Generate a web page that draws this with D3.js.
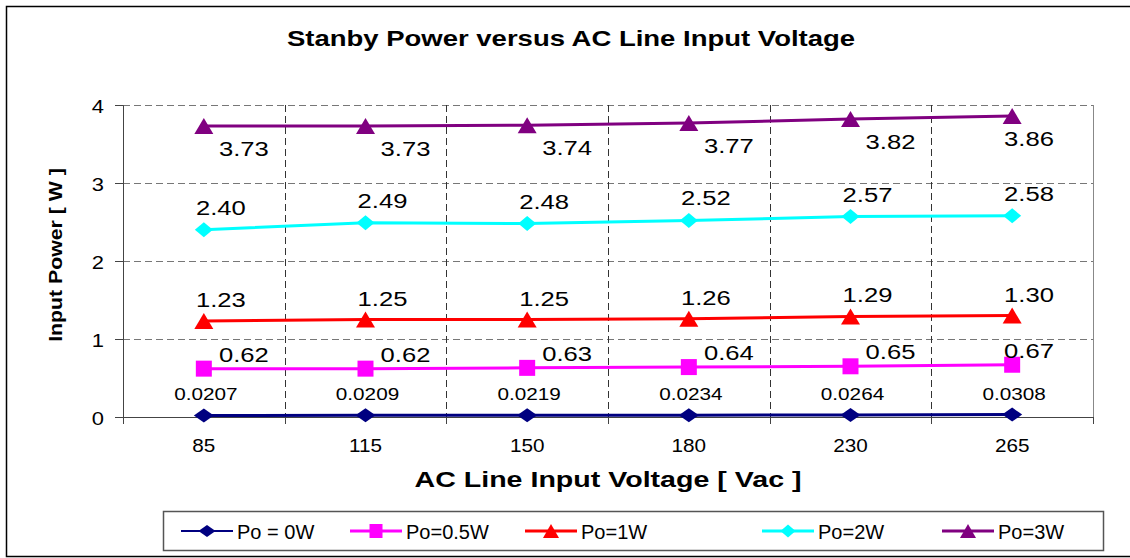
<!DOCTYPE html>
<html lang="en">
<head>
  <meta charset="UTF-8">
  <title>Stanby Power versus AC Line Input Voltage</title>
  <style>
    body, html {
        margin: 0;
        padding: 0;
        background-color: #FFF;
        font-family: "Liberation Sans", Arial, sans-serif;
    }
    #chart {
        display: block;
    }
  </style>
</head>
<body>

<svg id="chart" width="1130" height="558"></svg>

<script src="https://cdn.jsdelivr.net/npm/d3@7"></script>

<script>
/* global d3 */
var voltages = ["85", "115", "150", "180", "230", "265"];
var yTicks = [0, 1, 2, 3, 4];

var po0W   = [0.0207, 0.0209, 0.0219, 0.0234, 0.0264, 0.0308];
var po05W  = [0.62, 0.62, 0.63, 0.64, 0.65, 0.67];
var po1W   = [1.23, 1.25, 1.25, 1.26, 1.29, 1.30];
var po2W   = [2.40, 2.49, 2.48, 2.52, 2.57, 2.58];
var po3W   = [3.73, 3.73, 3.74, 3.77, 3.82, 3.86];

var seriesNames = ["Po = 0W", "Po=0.5W", "Po=1W", "Po=2W", "Po=3W"];

// the original picture is stretched sideways a bit, so text gets a scaleX
var SX = 1.22;

// style per series: colour, marker, label offset, label format
var series = [
  {name: seriesNames[0], values: po0W,  color: "#000080", shape: "diamond",  w: 20, h: 14, lw: 3, fmt: d3.format(".4f"), dx: 2,  dy: -15, fs: 17},
  {name: seriesNames[1], values: po05W, color: "#FF00FF", shape: "square",   w: 16, h: 16, lw: 3, fmt: d3.format(".2f"), dx: 40, dy: -7,  fs: 21},
  {name: seriesNames[2], values: po1W,  color: "#FF0000", shape: "triangle", w: 19, h: 16, lw: 3, fmt: d3.format(".2f"), dx: 17, dy: -14, fs: 21},
  {name: seriesNames[3], values: po2W,  color: "#00FFFF", shape: "diamond",  w: 18, h: 15, lw: 3, fmt: d3.format(".2f"), dx: 17, dy: -15, fs: 21},
  {name: seriesNames[4], values: po3W,  color: "#800080", shape: "triangle", w: 19, h: 16, lw: 3, fmt: d3.format(".2f"), dx: 40, dy: 30,  fs: 21}
];

var svg = d3.select("#chart"),
  margin = {left: 123, top: 105, right: 1093, bottom: 417};

var x = d3.scaleBand()
  .domain(voltages)
  .range([margin.left, margin.right]);

var y = d3.scaleLinear()
  .domain([0, 4])
  .range([margin.bottom, margin.top]);

function cx(i) { return x(voltages[i]) + x.bandwidth() / 2; }

// outer frame
svg.append("rect")
  .attr("x", 6.5).attr("y", 6.5)
  .attr("width", 1140).attr("height", 550)
  .attr("fill", "none")
  .attr("stroke", "#000")
  .attr("stroke-width", 1.5);

// horizontal grid
svg.append("g")
  .selectAll("line")
  .data(yTicks.filter(function (d) { return d > 0; }))
  .join("line")
    .attr("x1", margin.left).attr("x2", margin.right)
    .attr("y1", function (d) { return Math.round(y(d)) + 0.5; })
    .attr("y2", function (d) { return Math.round(y(d)) + 0.5; })
    .attr("stroke", "#777")
    .attr("stroke-dasharray", "7,4");

// vertical grid at category boundaries
var bounds = voltages.slice(1).map(function (v) { return x(v); });
svg.append("g")
  .selectAll("line")
  .data(bounds)
  .join("line")
    .attr("x1", function (d) { return Math.round(d) + 0.5; })
    .attr("x2", function (d) { return Math.round(d) + 0.5; })
    .attr("y1", margin.top).attr("y2", margin.bottom)
    .attr("stroke", "#333")
    .attr("stroke-dasharray", "7,4");

// right border of plot area
svg.append("line")
  .attr("x1", margin.right + 0.5).attr("x2", margin.right + 0.5)
  .attr("y1", margin.top).attr("y2", margin.bottom)
  .attr("stroke", "#888");

// y axis
var yAxis = svg.append("g")
  .attr("transform", "translate(" + margin.left + ",0)")
  .call(d3.axisLeft(y).tickValues(yTicks).tickSize(8).tickFormat(d3.format("d")));
yAxis.select(".domain").attr("stroke", "#444");
yAxis.selectAll(".tick line").attr("stroke", "#444");
yAxis.selectAll("text")
  .attr("x", 0)
  .attr("dy", "0.42em")
  .attr("transform", "translate(-19,0) scale(" + SX + ",1)")
  .attr("font-size", 18)
  .attr("font-family", "Liberation Sans, Arial, sans-serif")
  .attr("fill", "#000");

// x axis: ticks at category boundaries
var xAxis = svg.append("g")
  .attr("transform", "translate(0," + margin.bottom + ")")
  .call(d3.axisBottom(x).tickSize(0).tickPadding(22));
xAxis.select(".domain").attr("stroke", "#444").attr("d", "M" + margin.left + ",0.5H" + margin.right);
xAxis.selectAll("text")
  .attr("transform", "scale(1.15,1)")
  .attr("font-size", 18)
  .attr("font-family", "Liberation Sans, Arial, sans-serif")
  .attr("fill", "#000");
xAxis.selectAll(".bound")
  .data([margin.left].concat(bounds, [margin.right]))
  .join("line")
    .attr("class", "bound")
    .attr("x1", function (d) { return Math.round(d) + 0.5; })
    .attr("x2", function (d) { return Math.round(d) + 0.5; })
    .attr("y1", 0).attr("y2", 7)
    .attr("stroke", "#444");

// titles
svg.append("text")
  .attr("transform", "translate(571,46) scale(1.25,1)")
  .attr("text-anchor", "middle")
  .attr("font-weight", "bold")
  .attr("font-size", 22)
  .text("Stanby Power versus AC Line Input Voltage");

svg.append("text")
  .attr("transform", "translate(608,487) scale(1.3,1)")
  .attr("text-anchor", "middle")
  .attr("font-weight", "bold")
  .attr("font-size", 22)
  .text("AC Line Input Voltage [ Vac ]");

svg.append("text")
  .attr("transform", "translate(62,255) rotate(-90) scale(1.12,1)")
  .attr("text-anchor", "middle")
  .attr("font-weight", "bold")
  .attr("font-size", 19)
  .text("Input Power [ W ]");

function markerPath(shape, w, h) {
  var a = w / 2, b = h / 2;
  if (shape === "diamond") return "M0," + (-b) + "L" + a + ",0L0," + b + "L" + (-a) + ",0Z";
  if (shape === "square") return "M" + (-a) + "," + (-b) + "H" + a + "V" + b + "H" + (-a) + "Z";
  return "M0," + (-b) + "L" + a + "," + b + "L" + (-a) + "," + b + "Z";
}

var line = d3.line()
  .x(function (d, i) { return cx(i); })
  .y(function (d) { return y(d); });

series.forEach(function (s) {
  var g = svg.append("g");
  g.append("path")
    .attr("d", line(s.values))
    .attr("fill", "none")
    .attr("stroke", s.color)
    .attr("stroke-width", s.lw);
  g.selectAll("path.m")
    .data(s.values)
    .join("path")
      .attr("class", "m")
      .attr("transform", function (d, i) { return "translate(" + cx(i) + "," + y(d) + ")"; })
      .attr("d", markerPath(s.shape, s.w, s.h))
      .attr("fill", s.color);
  g.selectAll("text")
    .data(s.values)
    .join("text")
      .attr("transform", function (d, i) {
        // keep labels inside the plot area
        var lx = Math.min(cx(i) + s.dx, margin.right - 64);
        return "translate(" + lx + "," + (y(d) + s.dy) + ") scale(" + SX + ",1)";
      })
      .attr("text-anchor", "middle")
      .attr("font-size", s.fs)
      .text(function (d) { return s.fmt(d); });
});

// legend
var legend = svg.append("g");
legend.append("rect")
  .attr("x", 163.5).attr("y", 511.5)
  .attr("width", 940).attr("height", 39)
  .attr("fill", "#FFF")
  .attr("stroke", "#555")
  .attr("stroke-width", 1.5);

var legendX = [181, 350, 525, 762, 942];
series.forEach(function (s, i) {
  var lg = legend.append("g").attr("transform", "translate(" + legendX[i] + ",531)");
  lg.append("line")
    .attr("x1", 0).attr("x2", 52)
    .attr("stroke", s.color)
    .attr("stroke-width", i === 0 ? 2 : 3);
  lg.append("path")
    .attr("transform", "translate(26,0)")
    .attr("d", markerPath(s.shape, s.w - 3, s.h - 2))
    .attr("fill", s.color);
  lg.append("text")
    .attr("x", 56).attr("y", 8)
    .attr("font-size", 20)
    .text(s.name);
});
</script>

</body>
</html>
